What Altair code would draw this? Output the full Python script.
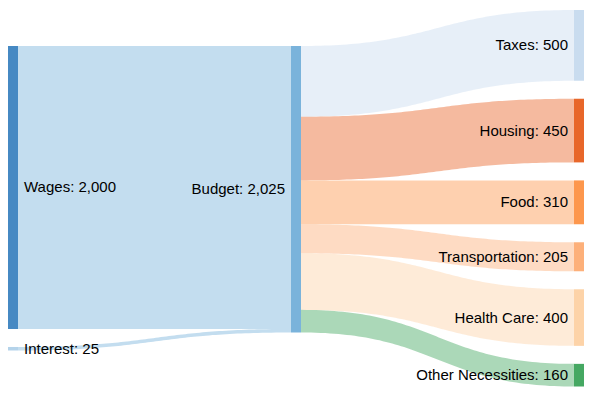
import altair as alt
import pandas as pd
import numpy as np

# ---- data ----
nodes = ["Wages", "Interest", "Budget", "Taxes", "Housing", "Food",
         "Transportation", "Health Care", "Other Necessities"]
node_colors = ["#4689c3", "#b4d3ea", "#7ab3db", "#c9dcef", "#e8672a",
               "#fd974d", "#fdb07a", "#fdd3a8", "#45a862"]
sources = ["Wages", "Interest", "Budget", "Budget", "Budget", "Budget", "Budget", "Budget"]
targets = ["Budget", "Budget", "Taxes", "Housing", "Food", "Transportation",
           "Health Care", "Other Necessities"]
values = [2000, 25, 500, 450, 310, 205, 400, 160]

# ---- layout (styling parameters) ----
W, H = 576, 379
NODE_W = 10
PAD = 18
Y_TOP, Y_BOT = 2.0, 378.5
LINK_OPACITY = 0.45

depth = {n: 0 for n in nodes}
for _ in range(len(nodes)):
    for s, t in zip(sources, targets):
        depth[t] = max(depth[t], depth[s] + 1)
maxd = max(depth.values())

val_in = {n: 0 for n in nodes}
val_out = {n: 0 for n in nodes}
for s, t, v in zip(sources, targets, values):
    val_out[s] += v
    val_in[t] += v
nval = {n: max(val_in[n], val_out[n]) for n in nodes}

cols = {}
for n in nodes:
    cols.setdefault(depth[n], []).append(n)

ext = Y_BOT - Y_TOP
k = min((ext - (len(c) - 1) * PAD) / sum(nval[n] for n in c) for c in cols.values())

pos = {}
for d, c in cols.items():
    x0 = d * (W - NODE_W) / maxd
    total = sum(nval[n] for n in c) * k + (len(c) - 1) * PAD
    y = Y_TOP if d == maxd else (Y_TOP + Y_BOT) / 2 - total / 2
    for n in c:
        pos[n] = [x0, x0 + NODE_W, y, y + nval[n] * k]
        y += nval[n] * k + PAD
for d, c in cols.items():
    if 0 < d < maxd:
        for n in c:
            srcs = [s for s, t in zip(sources, targets) if t == n]
            top = min(pos[s][2] for s in srcs)
            h = pos[n][3] - pos[n][2]
            pos[n][2], pos[n][3] = top, top + h

links = list(zip(sources, targets, values))
out_off = {n: pos[n][2] for n in nodes}
in_off = {n: pos[n][2] for n in nodes}
link_y = {}
for i in sorted(range(len(links)), key=lambda i: (links[i][0], pos[links[i][1]][2])):
    s, t, v = links[i]
    link_y[i] = [out_off[s], out_off[s] + v * k]
    out_off[s] += v * k
for i in sorted(range(len(links)), key=lambda i: (links[i][1], pos[links[i][0]][2])):
    s, t, v = links[i]
    link_y[i] += [in_off[t], in_off[t] + v * k]
    in_off[t] += v * k

color_of = dict(zip(nodes, node_colors))
rows = []
ts = np.linspace(0, 1, 80)
for i, (s, t, v) in enumerate(links):
    xa, xb = pos[s][1], pos[t][0]
    xm = (xa + xb) / 2
    ys0, ys1, yt0, yt1 = link_y[i]
    for tt in ts:
        b0 = (1 - tt) ** 3
        b1 = 3 * (1 - tt) ** 2 * tt
        b2 = 3 * (1 - tt) * tt ** 2
        b3 = tt ** 3
        rows.append({
            "link": f"L{i}",
            "lx": float(b0 * xa + (b1 + b2) * xm + b3 * xb),
            "ly": float((b0 + b1) * ys0 + (b2 + b3) * yt0),
            "ly2": float((b0 + b1) * ys1 + (b2 + b3) * yt1),
            "lcol": color_of[t],
        })
link_df = pd.DataFrame(rows)

node_df = pd.DataFrame([{
    "name": n, "x": float(pos[n][0]), "x2": float(pos[n][1]),
    "y": float(pos[n][2]), "y2": float(pos[n][3]),
    "col": color_of[n],
    "label": f"{n}: {nval[n]:,}",
    "tx": float(pos[n][1] + 6 if depth[n] == 0 else pos[n][0] - 6),
    "ty": float((pos[n][2] + pos[n][3]) / 2),
    "side": "left" if depth[n] == 0 else "right",
} for n in nodes])

xs = alt.Scale(domain=[0, W], nice=False, zero=False)
ys = alt.Scale(domain=[0, H], nice=False, zero=False, reverse=True)

link_layer = alt.Chart(link_df).mark_area(opacity=LINK_OPACITY).encode(
    x=alt.X("lx:Q", scale=xs, axis=None),
    y=alt.Y("ly:Q", scale=ys, axis=None, stack=None),
    y2="ly2:Q",
    color=alt.Color("lcol:N", scale=None),
    detail="link:N",
)

node_layer = alt.Chart(node_df).mark_rect().encode(
    x=alt.X("x:Q", scale=xs, axis=None),
    x2="x2:Q",
    y=alt.Y("y:Q", scale=ys, axis=None),
    y2="y2:Q",
    color=alt.Color("col:N", scale=None),
)

def text_layer(side, align):
    return alt.Chart(node_df).transform_filter(
        alt.datum.side == side
    ).mark_text(align=align, baseline="middle", font="Liberation Sans",
                fontSize=15, color="#000000").encode(
        x=alt.X("tx:Q", scale=xs, axis=None),
        y=alt.Y("ty:Q", scale=ys, axis=None),
        text="label:N",
    )

chart = alt.layer(
    link_layer, node_layer, text_layer("left", "left"), text_layer("right", "right")
).properties(
    width=W, height=H, padding=0, autosize=alt.AutoSizeParams(type="none")
).configure_view(stroke=None)

chart.save("out.html", embed_options={"renderer": "svg", "actions": False})
